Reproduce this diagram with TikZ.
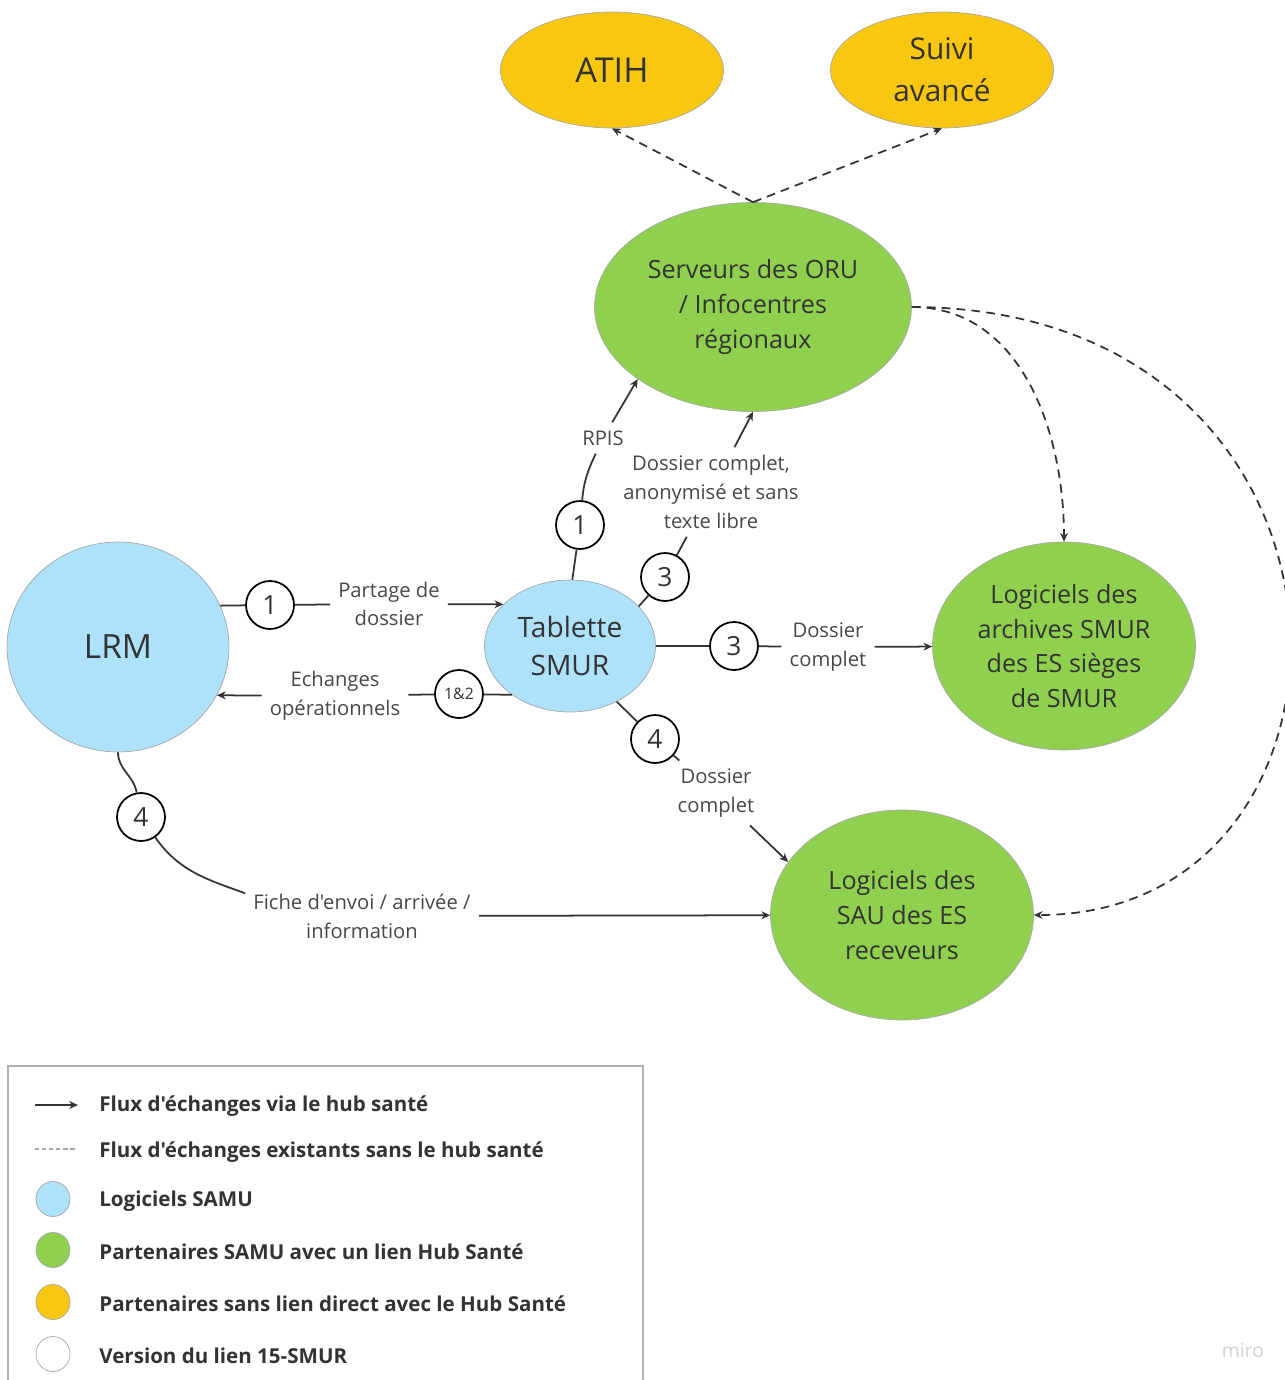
\documentclass[tikz,border=0pt]{standalone}
\usepackage{fontspec}
\setmainfont{Open Sans}[Ligatures=TeXOff]
\usepackage{tikz}
\usetikzlibrary{arrows.meta, positioning, shapes.geometric, calc}
\definecolor{samublue}{RGB}{173,226,250}
\definecolor{hubgreen}{RGB}{143,209,79}
\definecolor{extyellow}{RGB}{250,199,16}
\definecolor{inkgray}{RGB}{51,51,51}

\begin{document}
\begin{tikzpicture}[x=0.02cm,y=-0.02cm,
    soft/.style={ellipse,draw=gray!70,line width=0.4pt,inner sep=0pt,align=center,text=inkgray},
    samu/.style={soft,fill=samublue},
    hub/.style={soft,fill=hubgreen,font=\fontsize{14.3}{19.8}\selectfont},
    ext/.style={soft,fill=extyellow,minimum width=4.46cm,minimum height=2.32cm},
    ver/.style={circle,draw=black,line width=1pt,fill=white,minimum size=0.96cm,inner sep=0pt,font=\fontsize{15}{18}\selectfont,text=inkgray},
    lbl/.style={align=center,inner sep=4.5pt,font=\fontsize{11.5}{16.4}\selectfont,text=inkgray!90},
    flow/.style={line width=1pt,draw=inkgray},
    hubflow/.style={flow,-{Stealth[length=5pt,width=4.5pt]}},
    oldflow/.style={flow,dash pattern=on 5pt off 3.5pt,-{Stealth[length=5pt,width=4.5pt]}},
    keytext/.style={anchor=west,inner sep=0pt,font=\fontsize{11.7}{14}\selectfont\bfseries,text=inkgray},
]
\useasboundingbox (0,0) rectangle (1285,1380);

% main nodes
\node[samu,minimum width=4.44cm,minimum height=4.2cm,font=\fontsize{19}{24}\selectfont] (lrm) at (118,647) {LRM};
\node[samu,minimum width=3.42cm,minimum height=2.64cm,font=\fontsize{16}{21.5}\selectfont] (tab) at (570,646) {Tablette\\SMUR};
\node[hub,minimum width=6.34cm,minimum height=4.18cm] (oru) at (753,307) {Serveurs des ORU\\/ Infocentres\\régionaux};
\node[ext,font=\fontsize{19.5}{24}\selectfont] (atih) at (612,70) {ATIH};
\node[ext,font=\fontsize{17}{23.8}\selectfont] (suivi) at (942,70) {Suivi\\avancé};
\node[hub,minimum width=5.26cm,minimum height=4.16cm] (arch) at (1064,646) {Logiciels des\\archives SMUR\\des ES sièges\\de SMUR};
\node[hub,minimum width=5.26cm,minimum height=4.2cm] (sau) at (902,915) {Logiciels des\\SAU des ES\\receveurs};

% version circles
\node[ver] (v1a) at (270,605) {1};
\node[ver] (v12) at (459,694) {\fontsize{9}{11}\selectfont 1\&2};
\node[ver] (v1b) at (580,525) {1};
\node[ver] (v3a) at (665,577) {3};
\node[ver] (v3b) at (734,646) {3};
\node[ver] (v4a) at (655,739) {4};
\node[ver] (v4b) at (141,817) {4};

% flow labels
\node[lbl] (partage) at (389,604) {Partage de\\dossier};
\node[lbl] (echanges) at (335,696) {Echanges\\opérationnels};
\node[lbl] (rpis) at (603,438) {RPIS};
\node[lbl] (anon) at (711,492) {Dossier complet,\\anonymisé et sans\\texte libre};
\node[lbl] (dossarch) at (828,647) {Dossier\\complet};
\node[lbl] (dosssau) at (716,793) {Dossier\\complet};
\node[lbl] (fiche) at (362,916) {Fiche d'envoi / arrivée /\\information};

% flows via the hub
\draw[flow] (lrm.22) -- (v1a);
\draw[flow] (v1a) -- (partage);
\draw[hubflow] (partage) -- (tab.148);
\draw[flow] (tab.220) -- (v12);
\draw[flow] (v12) -- (echanges);
\draw[hubflow] (echanges) -- (lrm.-26.6);
\draw[flow] (tab.88) -- (v1b);
\draw[flow] (v1b) to[out=85,in=-115] (rpis);
\draw[hubflow] (rpis) -- (oru.212);
\draw[flow] (tab.30) -- (v3a);
\draw[flow] (v3a) -- (anon);
\draw[hubflow] (anon) -- (oru.south);
\draw[flow] (tab) -- (v3b);
\draw[flow] (v3b) -- (dossarch);
\draw[hubflow] (dossarch) -- (arch);
\draw[flow] (tab.-50) -- (v4a);
\draw[flow] (v4a) -- (dosssau);
\draw[hubflow] (dosssau) -- (sau.155);
\draw[flow] (lrm.south) to[out=-90,in=100] (v4b);
\draw[flow] (v4b) to[out=-55,in=160] (fiche.169);
\draw[hubflow] (fiche) -- (sau);

% existing flows without the hub
\draw[oldflow] (oru.north) -- (atih.south);
\draw[oldflow] (oru.north) -- (suivi.south);
\draw[oldflow] (oru.east) to[out=0,in=90] (arch.north);
\draw[oldflow] (oru.east) .. controls (1393,308) and (1393,915) .. (sau.east);

% legend
\draw[draw=gray!60,line width=0.6pt] (8,1395) -- (8,1066) -- (643,1066) -- (643,1395);
\coordinate (k1a) at (35,1105);
\coordinate (k1b) at (78,1105);
\coordinate (k2a) at (35,1149);
\coordinate (k2b) at (75,1149);
\draw[hubflow,line width=0.8pt] (k1a) -- (k1b);
\draw[draw=gray!70,line width=0.8pt,dash pattern=on 2.5pt off 1.5pt] (k2a) -- (k2b);
\node[keytext] (kt1) at (99,1106) {Flux d'échanges via le hub santé};
\node[keytext] (kt2) at (99,1152) {Flux d'échanges existants sans le hub santé};
\foreach \fillc/\ypos/\txt [count=\i] in {samublue/1199/Logiciels SAMU, hubgreen/1250/Partenaires SAMU avec un lien Hub Santé, extyellow/1302/Partenaires sans lien direct avec le Hub Santé, white/1354/Version du lien 15-SMUR} {
    \node[soft,fill=\fillc,minimum width=0.68cm,minimum height=0.7cm] (key\i) at (53,\ypos) {};
    \node[keytext] (keytxt\i) at (99,\ypos+2) {\txt};
}
\node[font=\fontsize{11}{13}\selectfont,text=gray!35] (miro) at (1243,1350) {miro};
\end{tikzpicture}
\end{document}
